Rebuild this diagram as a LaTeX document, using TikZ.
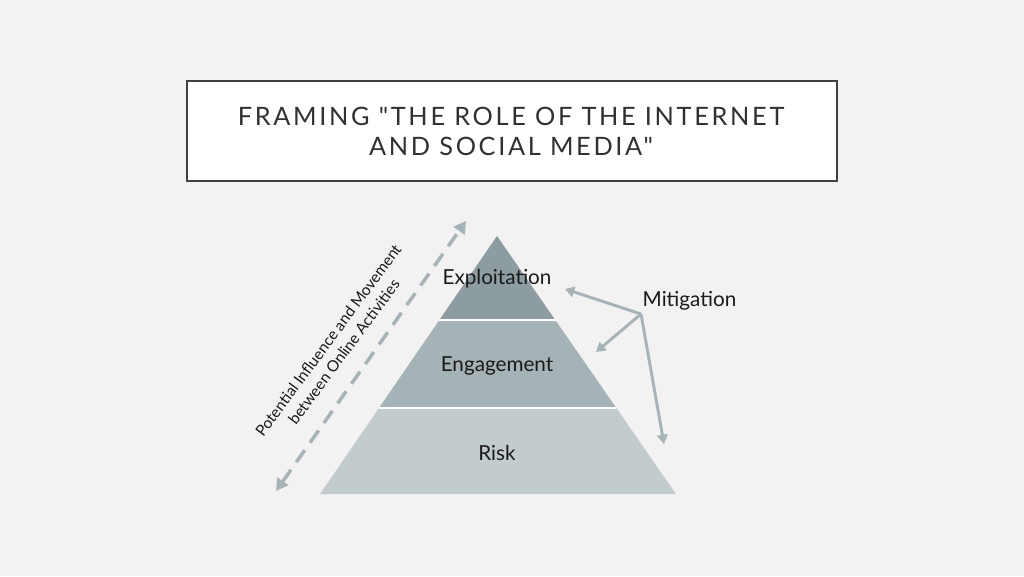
\documentclass[tikz,border=0pt]{standalone}
\usepackage{fontspec}
\setmainfont{Lato}
\newfontfamily\titlefont[LetterSpace=10.5]{Lato}
\usetikzlibrary{arrows.meta,calc}
\definecolor{bg}{HTML}{F2F2F2}
\definecolor{tierA}{HTML}{8C9CA1}
\definecolor{tierB}{HTML}{A5B2B6}
\definecolor{tierC}{HTML}{C2CBCE}
\definecolor{arr}{HTML}{A6B3B7}
\definecolor{frame}{HTML}{404040}
\definecolor{ink}{HTML}{1A1A1A}
\tikzset{
  tierlabel/.style={font=\fontsize{15.5}{18}\selectfont, text=ink},
  mitarrow/.style={draw=arr, line width=2.2pt, -{Triangle[length=7pt,width=8pt]}},
}
\begin{document}
\begin{tikzpicture}[x=0.75pt,y=-0.75pt]
\fill[bg] (0,0) rectangle (1024,576);
\useasboundingbox (0,0) rectangle (1024,576);
% title
\draw[frame, line width=2.2pt, fill=white] (187,81) rectangle (837,181);
\node[font=\titlefont\fontsize{19}{22.5}\selectfont, text=ink!90, align=center] (title) at (511,131)
  {FRAMING "THE ROLE OF THE INTERNET\\AND SOCIAL MEDIA"};
% pyramid
\coordinate (apex) at (497,236);
\coordinate (bl) at (320,494);
\coordinate (br) at (676,494);
\fill[tierC] (bl) -- (br) -- ($(apex)!0.665!(br)$) -- ($(apex)!0.665!(bl)$) -- cycle;
\fill[tierB] ($(apex)!0.665!(bl)$) -- ($(apex)!0.665!(br)$) -- ($(apex)!0.327!(br)$) -- ($(apex)!0.327!(bl)$) -- cycle;
\fill[tierA] ($(apex)!0.327!(bl)$) -- ($(apex)!0.327!(br)$) -- (apex) -- cycle;
\draw[white, line width=1.5pt] ($(apex)!0.327!(bl)$) -- ($(apex)!0.327!(br)$);
\draw[white, line width=1.5pt] ($(apex)!0.665!(bl)$) -- ($(apex)!0.665!(br)$);
\node[tierlabel] (expl) at (497,279) {Exploitation};
\node[tierlabel] (eng) at (497,366) {Engagement};
\node[tierlabel] (risk) at (497,453) {Risk};
% mitigation
\node[tierlabel, anchor=west] (mit) at (638,301) {Mitigation};
\coordinate (hub) at (641,314);
\coordinate (t1) at (565,289);
\coordinate (t2) at (596,352);
\coordinate (t3) at (664,444);
\draw[mitarrow] (hub) -- (t1);
\draw[mitarrow] (hub) -- (t2);
\draw[mitarrow] (hub) -- (t3);
% dashed double arrow
\coordinate (dtop) at (466,221);
\coordinate (dbot) at (276,491);
\draw[arr, line width=2.6pt, dash pattern=on 11pt off 7pt, {Triangle[length=9pt,width=10pt]}-{Triangle[length=9pt,width=10pt]}] (dbot) -- (dtop);
\node[rotate=53.5, font=\fontsize{11.6}{14.5}\selectfont, text=ink, align=center] (infl) at (336,346)
  {Potential Influence and Movement\\between Online Activities};
\end{tikzpicture}
\end{document}
